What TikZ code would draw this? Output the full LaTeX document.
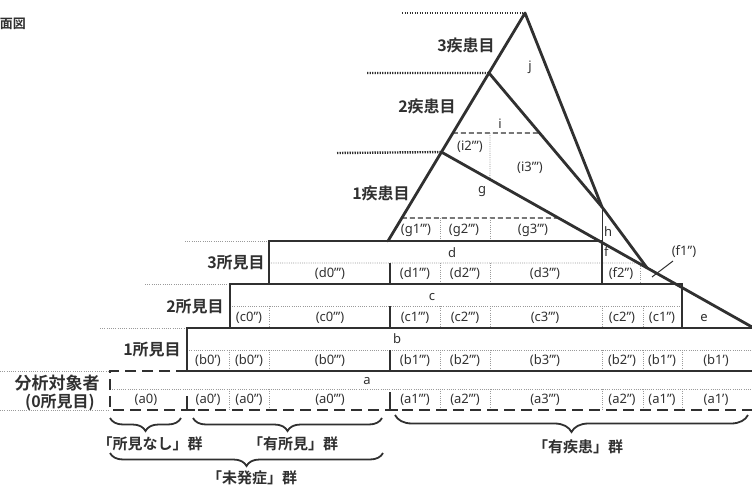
\documentclass[tikz,border=0pt]{standalone}
\usepackage{fontspec}
\setmainfont{Noto Sans}
\newfontfamily\jp{Noto Sans CJK JP}[BoldFont={Noto Sans CJK JP Bold}]
\usetikzlibrary{decorations.pathreplacing,calc}
\definecolor{ink}{HTML}{303030}
\definecolor{gridc}{HTML}{9A9A9A}
\tikzset{
  boxln/.style={draw=ink, line width=2.4pt},
  medln/.style={draw=ink, line width=1.6pt},
  thinln/.style={draw=ink, line width=1pt},
  triln/.style={draw=ink, line width=2.8pt, line join=round, line cap=round},
  levdot/.style={draw=ink, line width=2.4pt, dash pattern=on 1.3pt off 1.2pt},
  thindot/.style={draw=gridc, line width=0.8pt, dash pattern=on 1pt off 1.2pt},
  middash/.style={draw=ink, line width=1.3pt, dash pattern=on 5pt off 3pt},
  rowdash/.style={draw=ink, line width=2.4pt, dash pattern=on 11pt off 6pt},
  bracel/.style={draw=ink, line width=1.8pt, decorate, decoration={brace, mirror, amplitude=#1}},
  cell/.style={font=\fontsize{13}{14}\selectfont, text=ink, inner sep=0pt},
  jlab/.style={font=\jp\bfseries\fontsize{16}{18}\selectfont, text=ink, inner sep=0pt},
  glab/.style={font=\jp\bfseries\fontsize{15}{17}\selectfont, text=ink, inner sep=0pt}
}
\begin{document}
\begin{tikzpicture}[x=1pt,y=-1pt]
\useasboundingbox (0,0) rectangle (752,489);

% key points
\coordinate (L0) at (388,241);
\coordinate (A) at (525,13);
\coordinate (V3) at ($(L0)!0.39!(A)$);
\coordinate (V2) at ($(L0)!0.737!(A)$);
\coordinate (P) at (602,207);
\coordinate (E) at (752,327);
\coordinate (Q) at ($(V3)!0.662!(E)$);

% title
\node[glab, anchor=east, font=\jp\bfseries\fontsize{13}{14}\selectfont] (ttl) at (26,24) {面図};

% level dotted lines
\coordinate (T3) at (402,13);
\coordinate (T2) at (367,73);
\coordinate (T1) at (337,153);
\draw[levdot] (T3) -- (A);
\draw[levdot] (T2) -- (V2);
\draw[levdot] (T1) -- (V3);

% left thin dotted extensions
\draw[thindot] (185,241) -- (269,241);
\draw[thindot] (145,284) -- (230,284);
\draw[thindot] (100,328) -- (187,328);
\draw[thindot] (0,371) -- (110,371);
\draw[thindot] (0,410) -- (110,410);

% triangle internal grid
\coordinate (gL) at ($(L0)!0.1009!(A)$);
\coordinate (gR) at ($(V3)!0.377!(E)$);
\draw[middash] (gL) -- (gR);
\coordinate (iL) at ($(L0)!0.4737!(A)$);
\coordinate (iR) at ($(V2)!0.4478!(P)$);
\draw[middash] (iL) -- (iR);
\coordinate (iv) at ($(V3)!0.156!(E)$);
\draw[thindot] (490,133) -- (iv);
\draw[thindot] (440,218) -- (440,241);
\draw[thindot] (490,218) -- (490,241);

% mid lines of rows
\coordinate (dR) at ($(V3)!0.634!(E)$);
\draw[thindot] (269,263) -- (dR);
\draw[thindot] (230,306) -- (682,306);
\draw[thindot] (187,350) -- (752,350);
\draw[thindot] (110,389) -- (752,389);

% cell dividers
\foreach \x in {440,490} \draw[thindot] (\x,263) -- (\x,284);
\draw[thindot] (640,264) -- (640,284);
\foreach \x in {269,440,490,602,643} \draw[thindot] (\x,306) -- (\x,328);
\foreach \x in {229,269,440,490,602,643,682} \draw[thindot] (\x,350) -- (\x,371);
\foreach \x in {229,269,440,490,602,643,682} \draw[thindot] (\x,389) -- (\x,410);

% boxes
\draw[boxln] (269,284) -- (269,241) -- (602,241);
\draw[medln] (602,241) -- (602,284);
\draw[thinln] (P) -- (602,241);
\draw[boxln] (230,328) -- (230,284) -- (682,284) -- (682,328);
\draw[boxln] (187,371) -- (187,328) -- (752,328);
\draw[boxln] (187,371) -- (752,371);
\draw[rowdash] (187,371) -- (110,371) -- (110,410) -- (752,410);
\draw[boxln] (390,263) -- (390,284);
\draw[boxln] (390,306) -- (390,328);
\draw[boxln] (390,350) -- (390,371);
\draw[boxln] (187,396) -- (187,410) -- (195,410);
\draw[boxln] (390,392) -- (390,410) -- (398,410);

% triangle outline
\draw[triln] (L0) -- (V3) -- (V2) -- (A) -- (P) -- (Q);
\draw[triln] (V2) -- (P);
\draw[triln] (V3) -- (E);

% level labels
\node[jlab] (lv3) at (466,45) {3疾患目};
\node[jlab] (lv2) at (427,106) {2疾患目};
\node[jlab] (lv1) at (381,193) {1疾患目};
\node[jlab] (r3) at (236,263) {3所見目};
\node[jlab] (r2) at (195,307) {2所見目};
\node[jlab] (r1) at (152,350) {1所見目};
\node[jlab, font=\jp\bfseries\fontsize{17}{18}\selectfont] (r0a) at (57,383) {分析対象者};
\node[jlab] (r0b) at (60,402) {(0所見目)};

% triangle labels
\node[cell] (lj) at (530,67) {j};
\node[cell] (li) at (500,124) {i};
\node[cell] (li2) at (470,147) {(i2''')};
\node[cell] (li3) at (530,168) {(i3''')};
\node[cell] (lg) at (482,192) {g};
\node[cell] (lg1) at (416,230) {(g1''')};
\node[cell] (lg2) at (464,230) {(g2''')};
\node[cell] (lg3) at (533,230) {(g3''')};
\node[cell, anchor=west] (lh) at (604,232) {h};
\node[cell, anchor=west] (lf) at (604,252) {f};
\node[cell] (lf1) at (684,252) {(f1'')};
\draw[thinln] (673,261) -- (652,277);

% row d
\node[cell] (ld) at (452,253) {d};
\node[cell] (d0) at (330,273.5) {(d0''')};
\node[cell] (d1) at (415,273.5) {(d1''')};
\node[cell] (d2) at (465,273.5) {(d2''')};
\node[cell] (d3) at (545,273.5) {(d3''')};
\node[cell] (f2) at (621,273.5) {(f2'')};

% row c
\node[cell] (lc) at (432,297) {c};
\node[cell] (c0a) at (249,317.5) {(c0'')};
\node[cell] (c0b) at (330,317.5) {(c0''')};
\node[cell] (c1) at (415,317.5) {(c1''')};
\node[cell] (c2) at (465,317.5) {(c2''')};
\node[cell] (c3) at (545,317.5) {(c3''')};
\node[cell] (c2b) at (622,317.5) {(c2'')};
\node[cell] (c1b) at (662,317.5) {(c1'')};
\node[cell] (le) at (704,318) {e};

% row b
\node[cell] (lb) at (397,339) {b};
\node[cell] (b0a) at (208,360.5) {(b0')};
\node[cell] (b0b) at (249,360.5) {(b0'')};
\node[cell] (b0c) at (330,360.5) {(b0''')};
\node[cell] (b1) at (415,360.5) {(b1''')};
\node[cell] (b2) at (465,360.5) {(b2''')};
\node[cell] (b3) at (545,360.5) {(b3''')};
\node[cell] (b2b) at (622,360.5) {(b2'')};
\node[cell] (b1b) at (662,360.5) {(b1'')};
\node[cell] (b1c) at (716,360.5) {(b1')};

% row a
\node[cell] (la) at (367,381) {a};
\node[cell] (a0) at (146,400) {(a0)};
\node[cell] (a0a) at (208,400) {(a0')};
\node[cell] (a0b) at (249,400) {(a0'')};
\node[cell] (a0c) at (330,400) {(a0''')};
\node[cell] (a1) at (415,400) {(a1''')};
\node[cell] (a2) at (465,400) {(a2''')};
\node[cell] (a3) at (545,400) {(a3''')};
\node[cell] (a2b) at (622,400) {(a2'')};
\node[cell] (a1b) at (662,400) {(a1'')};
\node[cell] (a1c) at (716,400) {(a1')};

% braces
\coordinate (br1a) at (110,418); \coordinate (br1b) at (181,418);
\coordinate (br2a) at (193,418); \coordinate (br2b) at (382,418);
\coordinate (br3a) at (110,453); \coordinate (br3b) at (383,453);
\coordinate (br4a) at (395,415); \coordinate (br4b) at (748,415);
\draw[bracel=13pt] (br1a) -- (br1b);
\draw[bracel=13pt] (br2a) -- (br2b);
\draw[bracel=13pt] (br3a) -- (br3b);
\draw[bracel=17pt] (br4a) -- (br4b);
\node[glab] (g1) at (150,444) {「所見なし」群};
\node[glab] (g2) at (293,444) {「有所見」群};
\node[glab] (g3) at (252,478) {「未発症」群};
\node[glab] (g4) at (578,447) {「有疾患」群};
\end{tikzpicture}
\end{document}
